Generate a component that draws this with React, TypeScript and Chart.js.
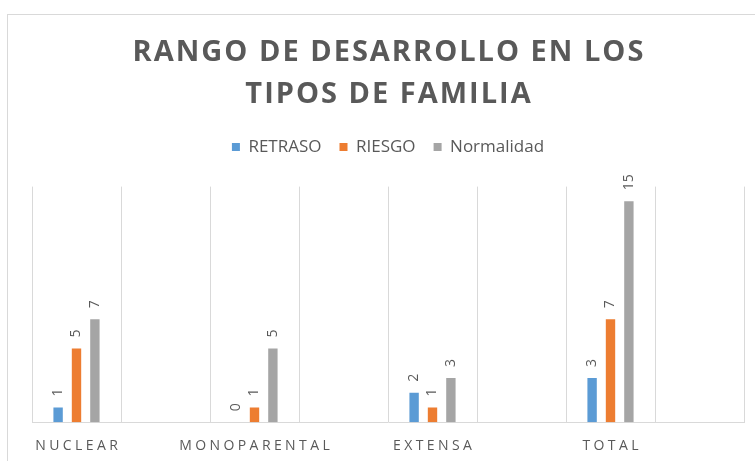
import React, { useEffect, useRef } from 'react';
import { Chart, registerables } from 'chart.js';

Chart.register(...registerables);

const categories = ['NUCLEAR', '', 'MONOPARENTAL', '', 'EXTENSA', '', 'TOTAL', ''];
const retraso = [1, null, 0, null, 2, null, 3, null];
const riesgo = [5, null, 1, null, 1, null, 7, null];
const normalidad = [7, null, 5, null, 3, null, 15, null];
const seriesNames = ['RETRASO', 'RIESGO', 'Normalidad'];
const seriesColors = ['#5B9BD5', '#ED7D31', '#A5A5A5'];
const titleLines = ['RANGO DE DESARROLLO EN LOS', 'TIPOS DE FAMILIA'];
const yMax = 16;

const TEXT = '#595959';
const FONT = "'Open Sans', 'DejaVu Sans', sans-serif";

const spacingPlugin = {
  id: 'spacingPatch',
  beforeDraw(chart: any) {
    const ctx = chart.ctx;
    const sx = chart.scales.x;
    if (sx && !sx.__patched) {
      const orig = sx.drawLabels.bind(sx);
      sx.drawLabels = (area: any) => {
        ctx.save();
        ctx.letterSpacing = '3.4px';
        ctx.translate(1.7, 0);
        orig(area);
        ctx.restore();
      };
      sx.__patched = true;
    }
    const tb = chart.titleBlock;
    if (tb && !tb.__patched) {
      const origT = tb.draw.bind(tb);
      tb.draw = (...args: any[]) => {
        ctx.save();
        ctx.letterSpacing = '2px';
        ctx.translate(1, 0);
        origT(...args);
        ctx.restore();
      };
      tb.__patched = true;
    }
  },
};

const dataLabelPlugin = {
  id: 'dataLabels',
  afterDatasetsDraw(chart: any) {
    const ctx = chart.ctx;
    ctx.save();
    ctx.font = `14px ${FONT}`;
    ctx.fillStyle = TEXT;
    ctx.textAlign = 'left';
    ctx.textBaseline = 'middle';
    chart.data.datasets.forEach((ds: any, di: number) => {
      const meta = chart.getDatasetMeta(di);
      meta.data.forEach((el: any, i: number) => {
        const v = ds.data[i];
        if (v === null || v === undefined) return;
        ctx.save();
        ctx.translate(el.x, el.y - 11);
        ctx.rotate(-Math.PI / 2);
        ctx.fillText(String(v), 0, 0);
        ctx.restore();
      });
    });
    ctx.restore();
  },
};

export default function App() {
  const ref = useRef<HTMLCanvasElement | null>(null);
  useEffect(() => {
    if (!ref.current) return;
    const chart = new Chart(ref.current, {
      type: 'bar',
      data: {
        labels: categories,
        datasets: [retraso, riesgo, normalidad].map((d, i) => ({
          label: seriesNames[i],
          data: d,
          backgroundColor: seriesColors[i],
          borderWidth: 0,
          barPercentage: 0.51,
          categoryPercentage: 0.62,
        })),
      },
      options: {
        responsive: false,
        animation: false,
        layout: { padding: { left: 24, right: 24, top: 0, bottom: 6 } },
        plugins: {
          title: {
            display: true,
            text: titleLines,
            color: TEXT,
            font: { family: FONT, size: 29, weight: 'bold', lineHeight: 1.45 },
            padding: { top: 16.5, bottom: 5 },
          },
          subtitle: {
            display: true,
            text: '',
            weight: 500,
            font: { size: 10, lineHeight: 1 },
            padding: { top: 0, bottom: 11 },
          } as any,
          legend: {
            display: true,
            position: 'top',
            labels: {
              boxWidth: 8,
              boxHeight: 8,
              padding: 18,
              color: TEXT,
              font: { family: FONT, size: 17 },
            },
          },
          tooltip: { enabled: false },
        },
        scales: {
          x: {
            grid: { display: true, color: '#D9D9D9', lineWidth: 1, drawTicks: false, offset: true },
            border: { display: true, color: '#D9D9D9', width: 1 },
            ticks: {
              color: TEXT,
              font: { family: FONT, size: 14 },
              padding: 15,
              autoSkip: false,
              maxRotation: 0,
              minRotation: 0,
            },
          },
          y: {
            display: false,
            min: 0,
            max: yMax,
          },
        },
      },
      plugins: [spacingPlugin, dataLabelPlugin],
    });
    return () => chart.destroy();
  }, []);

  return (
    <div
      style={{
        position: 'fixed',
        left: 0,
        top: 0,
        width: 755,
        height: 461,
        overflow: 'hidden',
        background: '#ffffff',
      }}
    >
      <div
        style={{
          position: 'absolute',
          left: 7,
          top: 14,
          width: 760,
          height: 460,
          border: '1px solid #D9D9D9',
          background: '#ffffff',
        }}
      >
        <canvas ref={ref} width={760} height={460} style={{ display: 'block' }} />
      </div>
    </div>
  );
}
